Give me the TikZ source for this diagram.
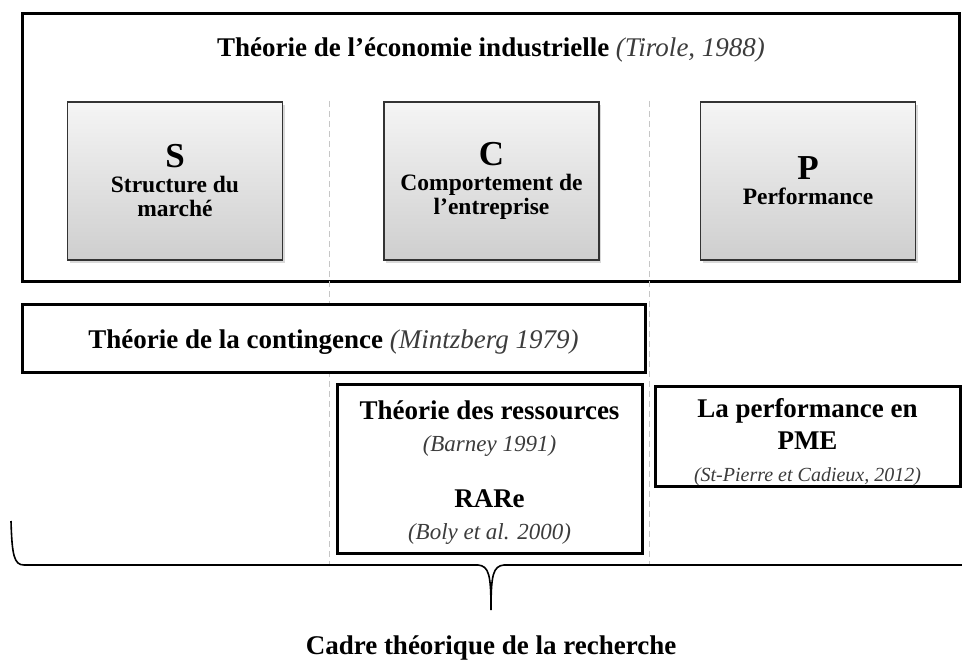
\documentclass[tikz,border=0pt]{standalone}
\usepackage{fontspec}
\setmainfont{Liberation Serif}
\usetikzlibrary{shadows}
\definecolor{citegray}{RGB}{60,60,60}
\newcommand{\reftxt}[1]{{\mdseries\itshape\color{citegray}#1}}

\begin{document}
\begin{tikzpicture}[x=1pt,y=-1pt,
    frame/.style={draw,line width=3pt,inner sep=0pt,align=center,font=\fontsize{27}{32}\selectfont\bfseries},
    scp/.style={draw=black!80,line width=1.2pt,top color=gray!8,bottom color=gray!38,minimum width=215pt,minimum height=158pt,inner sep=0pt,align=center,font=\fontsize{23.5}{24}\selectfont\bfseries,drop shadow={opacity=.3,shadow xshift=2pt,shadow yshift=-3pt}},
    head/.style={font=\fontsize{27}{32}\selectfont\bfseries},
    sep/.style={draw=gray!45,line width=1pt,dash pattern=on 6pt off 4pt}]
\useasboundingbox (0,0) rectangle (962,660);

% economie industrielle
\node[frame,minimum width=937pt,minimum height=268pt] (IO) at (491,147.5) {};
\node[head,anchor=base] (IOtitle) at (491,57) {Théorie de l’économie industrielle \reftxt{(Tirole, 1988)}};

\draw[sep] (329,101) -- (329,565);
\draw[sep] (649,101) -- (649,565);

\foreach \l/\t/\x in {S/{Structure du\\marché}/175,C/{Comportement de\\l’entreprise}/491.5,P/Performance/808}
    \node[scp] (\l) at (\x,181) {{\fontsize{35}{35}\selectfont \l}\\[1pt] \t};

% theories
\node[frame,fill=white,minimum width=623pt,minimum height=68pt] (TC) at (333.5,339) {\rule{0pt}{24pt}Théorie de la contingence \reftxt{(Mintzberg 1979)}};
\node[frame,fill=white,minimum width=305pt,minimum height=168pt] (TR) at (489.5,469) {\rule{0pt}{26pt}Théorie des ressources\\ \reftxt{\fontsize{23}{26}\selectfont(Barney 1991)}\\[24pt] RARe\\ \reftxt{\fontsize{23}{26}\selectfont(Boly et al. 2000)}};
\node[frame,fill=white,minimum width=305pt,minimum height=99pt] (PME) at (807.5,436.5) {\rule{0pt}{30pt}La performance en\\ PME\\ \reftxt{\fontsize{20}{24}\selectfont(St-Pierre et Cadieux, 2012)}};

% accolade
\coordinate (bl) at (11,521);
\coordinate (tip) at (491,610);
\draw[line width=1.6pt] (bl) .. controls (12,555) and (14,565) .. (24,565) -- (478,565) .. controls (489,566) and (491,575) .. (tip) .. controls (491,575) and (493,566) .. (504,565) -- (965,565);
\node[head,anchor=base] (cadre) at (491,654) {Cadre théorique de la recherche};
\end{tikzpicture}
\end{document}
